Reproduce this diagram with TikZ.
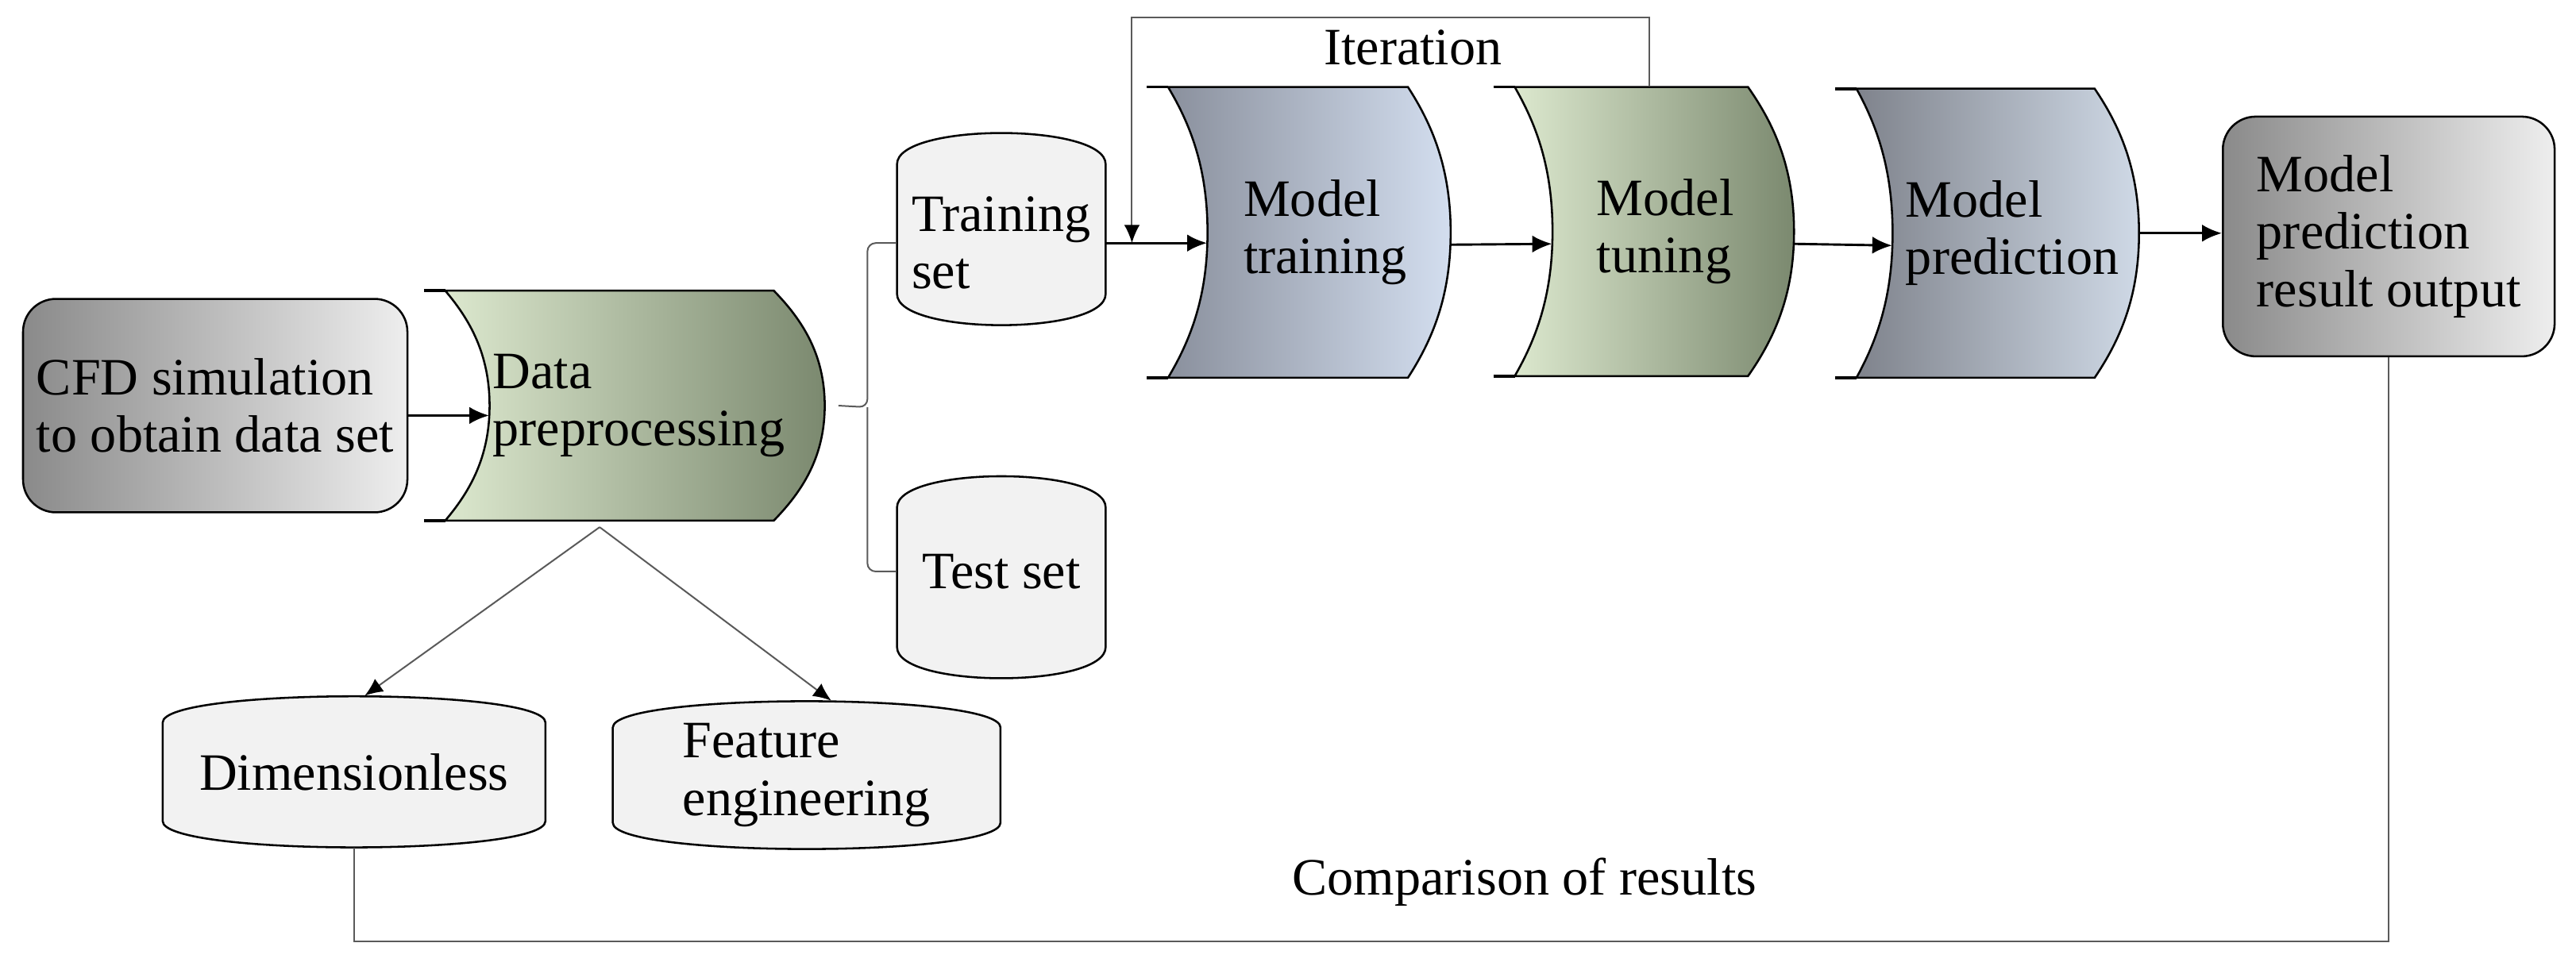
\documentclass[tikz,border=0pt]{standalone}
\usepackage{fontspec}
\setmainfont{Liberation Serif}
\usetikzlibrary{arrows.meta}

\definecolor{boxdark}{HTML}{8A8A8A}
\definecolor{boxlight}{HTML}{EEEEEE}
\definecolor{greenlight}{HTML}{DCE8CE}
\definecolor{greendark}{HTML}{7B896F}
\definecolor{bluedark}{HTML}{8A909D}
\definecolor{bluelight}{HTML}{D3DEEF}
\definecolor{bluedarkb}{HTML}{7F838C}
\definecolor{bluelightb}{HTML}{CFD9E6}
\definecolor{canfillc}{HTML}{F2F2F2}
\definecolor{linegray}{HTML}{5A5A5A}

% stored data shape: options, corner x, depth, right x, bulge, top, bottom
\newcommand\storedshape[7][]{%
	\shade[draw=black,line width=0.7pt,#1] (#2,#6) -- (#4,#6)
	.. controls ({#4+0.55*#5},{#6+0.125*(#7-#6)}) and ({#4+#5},{#6+0.275*(#7-#6)}) .. ({#4+#5},{(#6+#7)/2})
	.. controls ({#4+#5},{#6+0.725*(#7-#6)}) and ({#4+0.55*#5},{#6+0.875*(#7-#6)}) .. (#4,#7)
	-- (#2,#7)
	.. controls ({#2+0.55*#3},{#6+0.875*(#7-#6)}) and ({#2+#3},{#6+0.725*(#7-#6)}) .. ({#2+#3},{(#6+#7)/2})
	.. controls ({#2+#3},{#6+0.275*(#7-#6)}) and ({#2+0.55*#3},{#6+0.125*(#7-#6)}) .. cycle;
	\draw[line width=1pt] ({#2-13},#6) -- (#2,#6) ({#2-13},#7) -- (#2,#7);}
% can shape: west, east, top, bottom, dome
\newcommand\canshape[5]{%
	\draw[fill=canfillc,line width=0.7pt] (#1,{#3+#5}) -- (#1,{#4-#5})
	.. controls (#1,{#4+#5/3}) and (#2,{#4+#5/3}) .. (#2,{#4-#5})
	-- (#2,{#3+#5})
	.. controls (#2,{#3-#5/3}) and (#1,{#3-#5/3}) .. cycle;}

\tikzset{
	txt/.style={font=\fontsize{18.2}{19.9}\selectfont,inner sep=0pt,align=left},
	graybox/.style={txt,draw=black,line width=0.7pt,rounded corners=0.4cm,left color=boxdark,right color=boxlight},
	arr/.style={->,line width=0.8pt},
	link/.style={draw=linegray,line width=0.55pt},
	tip/.style={-{Latex[length=0.22cm,width=0.19cm,color=black]}}
}

\begin{document}
\begin{tikzpicture}[x=0.02cm,y=-0.02cm,>={Latex[length=0.24cm,width=0.21cm]}]
	\useasboundingbox (0,0) rectangle (1568,588);
	% shapes
	\storedshape[left color=greenlight,right color=greendark]{271}{27}{471}{31}{177}{317}
	\storedshape[left color=bluedark,right color=bluelight]{711}{24}{857}{26}{53}{230}
	\storedshape[left color=greenlight,right color=greendark]{922}{23}{1064}{28}{53}{229}
	\storedshape[left color=bluedarkb,right color=bluelightb]{1130}{22}{1275}{27}{54}{230}
	\canshape{546}{673}{81}{198}{19}
	\canshape{546}{673}{290}{413}{19}
	\canshape{99}{332}{424}{516}{16}
	\canshape{373}{609}{427}{517}{16}
	% nodes
	\node[graybox,minimum width=4.68cm,minimum height=2.6cm] (cfd) at (131,247) {CFD simulation\\to obtain data set};
	\node[txt,minimum height=2.8cm,text width=4cm,inner xsep=0.04cm] (data) at (400,247) {Data\\preprocessing};
	\node[txt,minimum width=2.54cm] (trainset) at (609.5,148) {Training\\set};
	\node[txt,minimum width=2.54cm] (testset) at (609.5,348) {Test set};
	\node[txt,minimum height=3.54cm,text width=2.08cm,inner xsep=0.44cm] (train) at (809,141.5) {Model\\training};
	\node[txt,minimum height=3.52cm,text width=1.86cm,inner xsep=0.54cm] (tune) at (1018.5,141) {Model\\tuning};
	\node[txt,minimum height=3.52cm,text width=2.68cm,inner xsep=0.16cm] (pred) at (1227,142) {Model\\prediction};
	\node[graybox,minimum width=4.04cm,minimum height=2.92cm] (res) at (1454,144) {Model\\prediction\\result output};
	\node[txt,minimum height=1.84cm] (dimless) at (215.5,470) {Dimensionless};
	\node[txt,minimum height=1.8cm] (feat) at (491,472) {Feature\\engineering};
	\node[txt] (iter) at (860,29) {Iteration};
	\node[txt] (cmp) at (928,537) {Comparison of results};
	\coordinate (split) at (528,248);
	\coordinate (fork) at (365,321);
	\coordinate (loopin) at (689,148);
	% connectors
	\draw[arr] ([yshift=-0.12cm]cfd.east) -- ([yshift=-0.12cm]data.west);
	\draw[link,rounded corners=0.1cm] (trainset.west) -| (split) -- ([xshift=0.16cm]data.east);
	\draw[link,rounded corners=0.1cm] (testset.west) -| (split);
	\draw[arr] (trainset.east) -- (trainset.east -| train.west);
	\draw[link,tip] ([xshift=-0.29cm]tune.north) -- ++(0,-42) -| (loopin);
	\draw[arr] ([yshift=-0.15cm]train.east) -- ([yshift=-0.15cm]tune.west);
	\draw[arr] ([yshift=-0.15cm]tune.east) -- ([yshift=-0.15cm]pred.west);
	\draw[arr] (pred.east) -- (pred.east -| res.west);
	\draw[link,tip] (fork) -- ([xshift=0.13cm]dimless.north);
	\draw[link,tip] (fork) -- ([xshift=0.3cm]feat.north);
	\draw[link] (dimless.south) -- ++(0,57) -| (res.south);
\end{tikzpicture}
\end{document}
